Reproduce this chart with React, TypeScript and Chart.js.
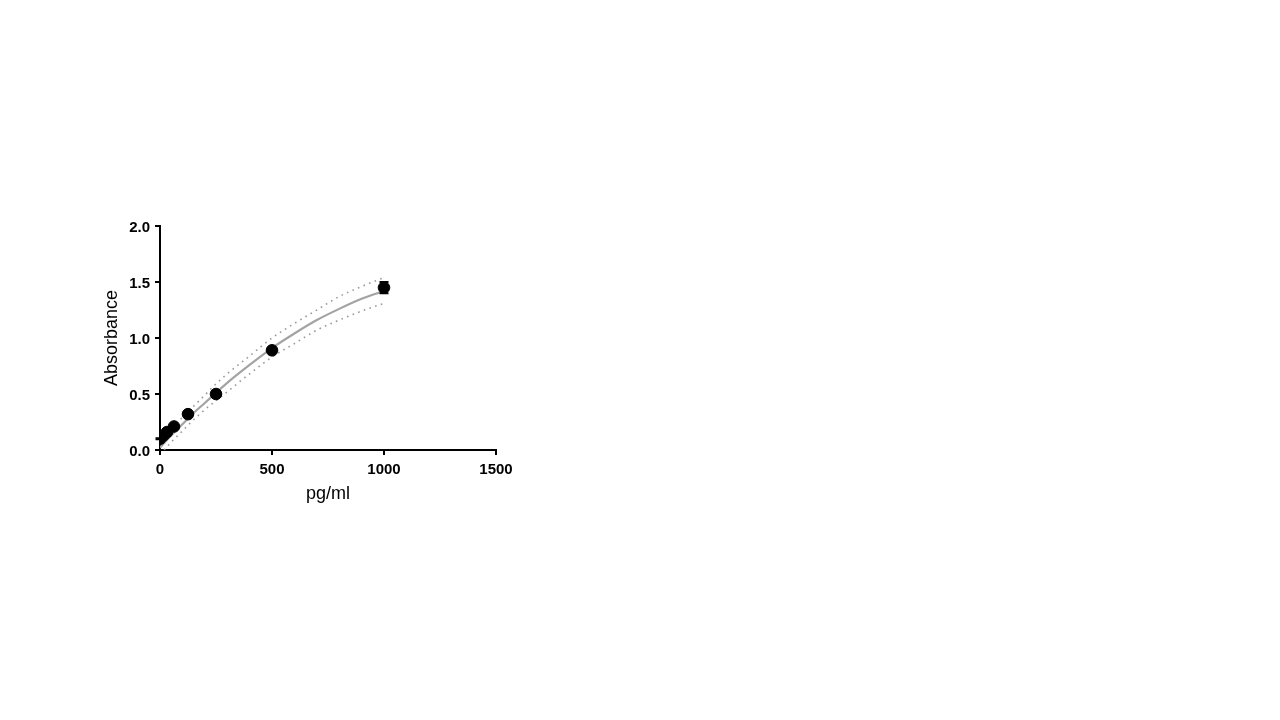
import { useEffect, useRef } from "react";
import { Chart, registerables } from "chart.js";

Chart.register(...registerables);

// standards (pg/ml) and mean absorbance
const concentrations = [0, 15.6, 31.25, 62.5, 125, 250, 500, 1000];
const absorbance = [0.1, 0.13, 0.16, 0.21, 0.32, 0.5, 0.89, 1.45];
const absorbanceErr = [0.005, 0.005, 0.008, 0.008, 0.01, 0.01, 0.012, 0.05];

// fitted curve and its confidence band
const fitX = [0, 50, 100, 150, 200, 250, 300, 400, 500, 600, 700, 800, 900, 1000];
const fitY = [0.02, 0.13, 0.23, 0.33, 0.42, 0.51, 0.6, 0.76, 0.91, 1.04, 1.16, 1.26, 1.35, 1.42];
const upperY = [0.08, 0.19, 0.29, 0.39, 0.49, 0.59, 0.68, 0.84, 1.0, 1.13, 1.25, 1.37, 1.46, 1.54];
const lowerY = [-0.04, 0.07, 0.17, 0.27, 0.36, 0.44, 0.52, 0.68, 0.83, 0.95, 1.07, 1.16, 1.24, 1.31];

const xTicks = [0, 500, 1000, 1500];
const yTicks = [0, 0.5, 1.0, 1.5, 2.0];

const FONT = "Arial, 'Liberation Sans', Helvetica, sans-serif";

const errorBars = {
  id: "errorBars",
  afterDatasetsDraw(chart: any) {
    const { ctx } = chart;
    const xs = chart.scales.x;
    const ys = chart.scales.y;
    ctx.save();
    ctx.strokeStyle = "#000";
    ctx.lineWidth = 2;
    concentrations.forEach((c, i) => {
      const px = xs.getPixelForValue(c);
      const top = ys.getPixelForValue(absorbance[i] + absorbanceErr[i]);
      const bot = ys.getPixelForValue(absorbance[i] - absorbanceErr[i]);
      ctx.beginPath();
      ctx.moveTo(px, top);
      ctx.lineTo(px, bot);
      ctx.moveTo(px - 4.5, top);
      ctx.lineTo(px + 4.5, top);
      ctx.moveTo(px - 4.5, bot);
      ctx.lineTo(px + 4.5, bot);
      ctx.stroke();
    });
    ctx.restore();
  },
};

export default function App() {
  const canvasRef = useRef<HTMLCanvasElement>(null);

  useEffect(() => {
    if (!canvasRef.current) return;
    const toPts = (xs: number[], ys: number[]) => xs.map((x, i) => ({ x, y: ys[i] }));
    const band = {
      showLine: true,
      borderColor: "#9a9a9a",
      borderWidth: 1.6,
      borderDash: [1.6, 4.4],
      pointRadius: 0,
      cubicInterpolationMode: "monotone" as const,
    };
    const chart = new Chart(canvasRef.current, {
      type: "scatter",
      data: {
        datasets: [
          {
            label: "Standards",
            data: toPts(concentrations, absorbance),
            backgroundColor: "#000",
            borderColor: "#000",
            pointRadius: 5.8,
            pointHoverRadius: 5.8,
          },
          {
            label: "Fit",
            data: toPts(fitX, fitY),
            showLine: true,
            borderColor: "#a3a3a3",
            borderWidth: 2.2,
            pointRadius: 0,
            cubicInterpolationMode: "monotone",
          },
          { label: "Upper", data: toPts(fitX, upperY), ...band },
          { label: "Lower", data: toPts(fitX, lowerY), ...band },
        ],
      },
      options: {
        animation: false,
        responsive: true,
        maintainAspectRatio: false,
        layout: { padding: { left: 101, top: 226, right: 784, bottom: 215 } },
        plugins: { legend: { display: false }, tooltip: { enabled: false } },
        scales: {
          x: {
            type: "linear",
            min: 0,
            max: 1500,
            afterFit: (s: any) => {
              s.height = 55;
            },
            afterBuildTicks: (s: any) => {
              s.ticks = xTicks.map((v) => ({ value: v }));
            },
            border: { color: "#000", width: 2 },
            grid: { drawOnChartArea: false, drawTicks: true, tickLength: 5, color: "#000", lineWidth: 2 },
            ticks: {
              padding: 6,
              color: "#000",
              font: { family: FONT, size: 15, weight: "bold" },
              callback: (v: any) => String(v),
            },
            title: {
              display: true,
              text: "pg/ml",
              color: "#000",
              padding: 0,
              font: { family: FONT, size: 18 },
            },
          },
          y: {
            type: "linear",
            min: 0,
            max: 2,
            afterFit: (s: any) => {
              s.width = 59;
            },
            afterBuildTicks: (s: any) => {
              s.ticks = yTicks.map((v) => ({ value: v }));
            },
            border: { color: "#000", width: 2 },
            grid: { drawOnChartArea: false, drawTicks: true, tickLength: 5, color: "#000", lineWidth: 2 },
            ticks: {
              padding: 5,
              labelOffset: 2,
              color: "#000",
              font: { family: FONT, size: 15, weight: "bold" },
              callback: (v: any) => Number(v).toFixed(1),
            },
            title: {
              display: true,
              text: "Absorbance",
              color: "#000",
              padding: 0,
              font: { family: FONT, size: 18 },
            },
          },
        },
      },
      plugins: [errorBars],
    });
    return () => chart.destroy();
  }, []);

  return (
    <div style={{ position: "fixed", left: 0, top: 0, width: 1280, height: 720, background: "#fff" }}>
      <canvas ref={canvasRef} role="img" aria-label="Standard curve: absorbance vs pg/ml" />
    </div>
  );
}
